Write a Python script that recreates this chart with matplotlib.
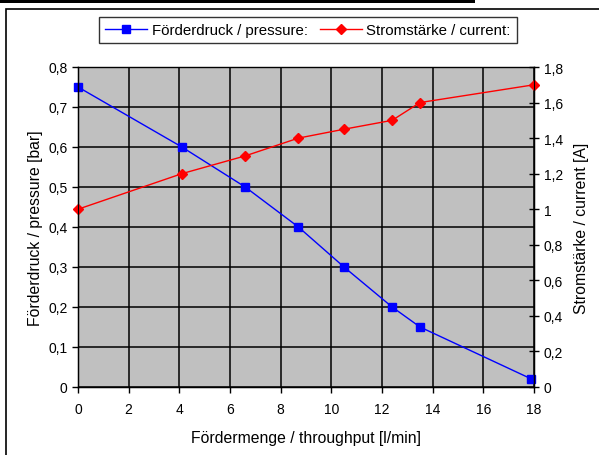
import matplotlib
matplotlib.use("Agg")
import matplotlib.pyplot as plt
from matplotlib.ticker import FuncFormatter, MultipleLocator
from matplotlib.patches import Rectangle

plt.rcParams['font.family'] = ['Liberation Sans', 'DejaVu Sans']

# data
flow = [0, 4.1, 6.6, 8.7, 10.5, 12.4, 13.5, 17.9]
pressure = [0.75, 0.6, 0.5, 0.4, 0.3, 0.2, 0.15, 0.02]
flow_cur = [0, 4.1, 6.6, 8.7, 10.5, 12.4, 13.5, 18]
current = [1.0, 1.2, 1.3, 1.4, 1.45, 1.5, 1.6, 1.7]


def comma(v, pos):
    return f"{v:g}".replace('.', ',')


fig = plt.figure(figsize=(5.99, 4.56), dpi=100)

# outer frame and black strip at the top (cropped page)
fig.patches.append(Rectangle((6 / 599, -0.05), 1.2, 1 - 10 / 456 + 0.05,
                             transform=fig.transFigure, fill=False,
                             edgecolor='black', linewidth=1.2))
fig.patches.append(Rectangle((0, 1 - 3.5 / 456), 475 / 599, 3.5 / 456,
                             transform=fig.transFigure, facecolor='black',
                             edgecolor='none'))

ax = fig.add_axes([78 / 599, 1 - 388 / 456, 456 / 599, 320 / 456])
ax.set_facecolor('#C0C0C0')
ax2 = ax.twinx()

l1, = ax.plot(flow, pressure, color='#0000FF', linewidth=1, marker='s',
              markersize=6, label='Förderdruck / pressure:')
l2, = ax2.plot(flow_cur, current, color='#FF0000', linewidth=1, marker='D',
               markersize=5, label='Stromstärke / current:')
for ln in (l1, l2):
    ln.set_clip_on(False)

ax.set_xlim(0, 18)
ax.set_ylim(0, 0.8)
ax2.set_ylim(0, 1.8)
ax.xaxis.set_major_locator(MultipleLocator(2))
ax.yaxis.set_major_locator(MultipleLocator(0.1))
ax2.yaxis.set_major_locator(MultipleLocator(0.2))
ax.yaxis.set_major_formatter(FuncFormatter(comma))
ax2.yaxis.set_major_formatter(FuncFormatter(comma))

ax.grid(True, color='black', linewidth=1.1)
ax.set_axisbelow(True)
ax.tick_params(axis='both', labelsize=10, direction='out', length=4, width=1)
ax.tick_params(axis='x', pad=7)
ax2.tick_params(axis='y', labelsize=10, direction='inout', length=7, width=1)
for sp in ax.spines.values():
    sp.set_linewidth(1)
ax2.spines['top'].set_visible(False)

ax.set_xlabel('Fördermenge / throughput [l/min]', fontsize=11.3, labelpad=10)
ax.set_ylabel('Förderdruck / pressure [bar]', fontsize=11.3, labelpad=4)
ax2.set_ylabel('Stromstärke / current [A]', fontsize=11.3, labelpad=8)

leg = fig.legend(handles=[l1, l2], loc='center', ncol=2,
                 bbox_to_anchor=(308 / 599, 1 - 31 / 456), fontsize=10.8,
                 frameon=True, fancybox=False, edgecolor='black',
                 handlelength=2.8, columnspacing=0.8, handletextpad=0.3,
                 borderpad=0.4)
leg.get_frame().set_linewidth(1)

fig.savefig('out.png', dpi=100)
